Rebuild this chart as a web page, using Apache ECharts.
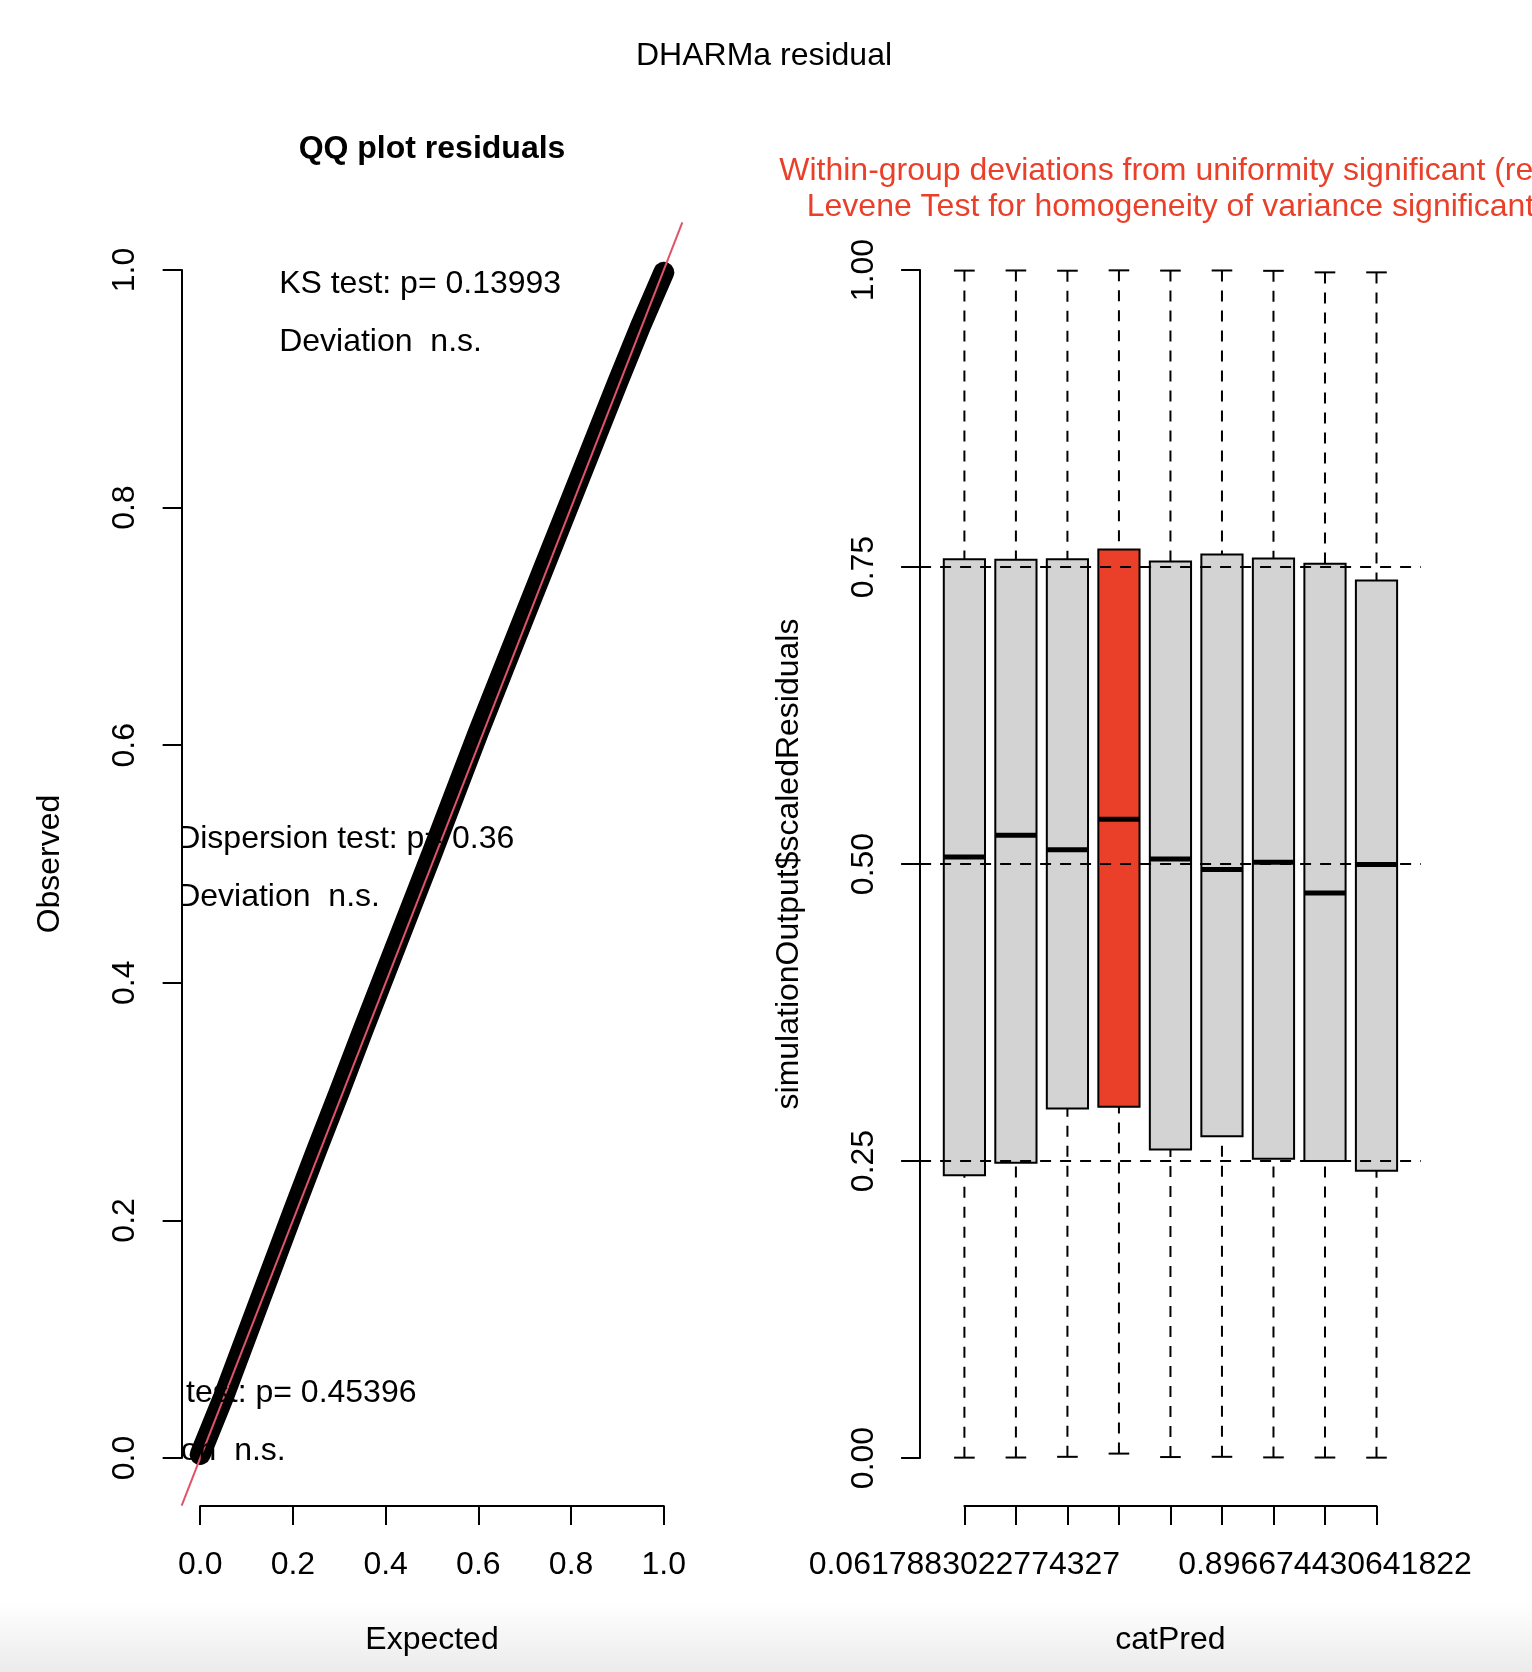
<!DOCTYPE html>
<html>
<head>
<meta charset="utf-8">
<script src="https://cdn.jsdelivr.net/npm/echarts@6/dist/echarts.min.js"></script>
<style>
html,body{margin:0;padding:0;background:#fff;}
#chart{width:1532px;height:1672px;}
</style>
</head>
<body>
<div id="chart"></div>
<script>
// ---------------- data ----------------
// QQ plot (expected vs observed quantiles of scaled residuals), read along the point band
const qqExpected = [0.000, 0.050, 0.100, 0.150, 0.200, 0.250, 0.300, 0.350, 0.400, 0.450, 0.500,
                    0.550, 0.600, 0.650, 0.700, 0.750, 0.800, 0.850, 0.900, 0.950, 1.000];
const qqObserved = [0.003, 0.051, 0.103, 0.155, 0.207, 0.258, 0.308, 0.359, 0.409, 0.459, 0.509,
                    0.560, 0.611, 0.660, 0.709, 0.758, 0.807, 0.856, 0.905, 0.953, 0.998];

// Boxplot of scaled residuals per catPred group
const catLabels = ["0.0617883022774327", "", "", "", "", "", "", "0.896674430641822", ""];
const boxMin    = [0.0003, 0.0004, 0.0010, 0.0037, 0.0008, 0.0010, 0.0005, 0.0004, 0.0003];
const boxQ1     = [0.2381, 0.2485, 0.2942, 0.2956, 0.2597, 0.2709, 0.2519, 0.2499, 0.2418];
const boxMedian = [0.5059, 0.5241, 0.5121, 0.5376, 0.5042, 0.4953, 0.5014, 0.4756, 0.4995];
const boxQ3     = [0.7566, 0.7560, 0.7566, 0.7647, 0.7546, 0.7605, 0.7571, 0.7527, 0.7386];
const boxMax    = [0.9995, 0.9996, 0.9994, 0.9997, 0.9995, 0.9996, 0.9993, 0.9980, 0.9980];
const groupSignificant = [false, false, false, true, false, false, false, false, false];
const refLevels = [0.25, 0.5, 0.75];

// Text
const mainTitle = "DHARMa residual";
const qqTitle = "QQ plot residuals";
const boxTitleLines = ["Within-group deviations from uniformity significant (red)",
                       "Levene Test for homogeneity of variance significant"];
const ksText = ["KS test: p= 0.13993", "Deviation  n.s."];
const dispText = ["Dispersion test: p= 0.36", "Deviation  n.s."];
const outlierText = ["Outlier test: p= 0.45396", "Deviation  n.s."];

// ---------------- layout / style ----------------
const FONT = '"Liberation Sans", Arial, Helvetica, sans-serif';
const FS = 32;
const RED = '#EA3F28';
const ABLINE = '#DF536B';
const GRAY = '#D3D3D3';
const EXT = 0.04; // R usr extension

const L = {x0: 200.2, x1: 663.8, top: 270, bottom: 1458};
const Lw = L.x1 - L.x0, H = L.bottom - L.top;
const R = {x0: 964.4, x1: 1376.5};
const Rstep = (R.x1 - R.x0) / (catLabels.length - 1);
const axisY = 1506;

const plotL = {left: L.x0 - EXT * Lw, width: Lw * (1 + 2 * EXT)};
const plotR = {left: R.x0 - (0.5 + EXT * catLabels.length) * Rstep,
               width: Rstep * catLabels.length * (1 + 2 * EXT)};
const plotTop = L.top - EXT * H, plotH = H * (1 + 2 * EXT);

const axisCommon = {
  axisLine: {show: true, onZero: false, lineStyle: {color: '#000', width: 2}},
  axisTick: {show: true, length: 19, lineStyle: {color: '#000', width: 2}},
  splitLine: {show: false},
  nameLocation: 'middle',
  nameTextStyle: {fontSize: FS, color: '#000', fontFamily: FONT}
};
const labelCommon = {fontSize: FS, color: '#000', fontFamily: FONT};

const chart = echarts.init(document.getElementById('chart'), null, {renderer: 'canvas'});

function txt(text, x, y, font, fill) {
  return {
    type: 'text', x: x, y: y, silent: true,
    style: {text: text, font: font || (FS + 'px ' + FONT), fill: fill || '#000', align: 'center', verticalAlign: 'middle'}
  };
}

const option = {
  animation: false,
  backgroundColor: {
    type: 'linear', x: 0, y: 0, x2: 0, y2: 1,
    colorStops: [{offset: 0, color: '#ffffff'}, {offset: 0.958, color: '#ffffff'}, {offset: 1, color: '#ebebeb'}]
  },
  graphic: [
    txt(mainTitle, 764, 56.5),
    txt(qqTitle, 432, 149.5, 'bold ' + FS + 'px ' + FONT),
    txt(boxTitleLines[0], 1170.5, 171, null, RED),
    txt(boxTitleLines[1], 1170.5, 207.5, null, RED)
  ],
  grid: [
    {left: L.x0, top: L.top, width: Lw, height: H},
    {left: plotL.left, top: plotTop, width: plotL.width, height: plotH},
    {left: R.x0, top: L.top, width: R.x1 - R.x0, height: H},
    {left: plotR.left, top: plotTop, width: plotR.width, height: plotH}
  ],
  xAxis: [
    Object.assign({}, axisCommon, {
      gridIndex: 0, type: 'value', min: 0, max: 1, interval: 0.2, offset: axisY - L.bottom,
      name: 'Expected', nameGap: 118,
      axisLabel: Object.assign({}, labelCommon, {margin: 43, formatter: v => v.toFixed(1)})
    }),
    {gridIndex: 1, type: 'value', min: -EXT, max: 1 + EXT, show: false},
    Object.assign({}, axisCommon, {
      gridIndex: 2, type: 'category', data: catLabels, boundaryGap: false, offset: axisY - L.bottom,
      name: 'catPred', nameGap: 118,
      axisTick: {show: true, length: 19, interval: 0, lineStyle: {color: '#000', width: 2}},
      axisLabel: Object.assign({}, labelCommon, {margin: 43, interval: (i) => i === 0 || i === 7})
    }),
    {gridIndex: 3, type: 'value', min: 0.5 - EXT * catLabels.length, max: catLabels.length + 0.5 + EXT * catLabels.length, show: false}
  ],
  yAxis: [
    Object.assign({}, axisCommon, {
      gridIndex: 0, type: 'value', min: 0, max: 1, interval: 0.2, offset: L.x0 - plotL.left,
      name: 'Observed', nameGap: 115,
      axisLabel: Object.assign({}, labelCommon, {margin: 40, rotate: 90, formatter: v => v.toFixed(1)})
    }),
    {gridIndex: 1, type: 'value', min: -EXT, max: 1 + EXT, show: false},
    Object.assign({}, axisCommon, {
      gridIndex: 2, type: 'value', min: 0, max: 1, interval: 0.25, offset: R.x0 - plotR.left,
      name: 'simulationOutput$scaledResiduals', nameGap: 115,
      axisLabel: Object.assign({}, labelCommon, {margin: 40, rotate: 90, formatter: v => v.toFixed(2)})
    }),
    {gridIndex: 3, type: 'value', min: -EXT, max: 1 + EXT, show: false}
  ],
  series: [
    // QQ points band
    {
      type: 'line', xAxisIndex: 1, yAxisIndex: 1, silent: true, symbol: 'none', z: 2, clip: true,
      data: qqExpected.map((e, i) => [e, qqObserved[i]]),
      lineStyle: {color: '#000', width: 21, cap: 'round', join: 'round'}
    },
    // 1:1 reference line
    {
      type: 'line', xAxisIndex: 1, yAxisIndex: 1, silent: true, symbol: 'none', z: 3, clip: true,
      data: [[-EXT, -EXT], [1 + EXT, 1 + EXT]],
      lineStyle: {color: ABLINE, width: 2}
    },
    // test annotations, clipped to the plot region like in R
    {
      type: 'custom', xAxisIndex: 1, yAxisIndex: 1, silent: true, clip: true, z: 4,
      data: [[0, 0]],
      renderItem: function (params, api) {
        const cs = params.coordSys;
        const blocks = [
          {lines: ksText, dx: 97.5, dy: [61.5, 120]},
          {lines: dispText, dx: -4.5, dy: [617, 674.5]},
          {lines: outlierText, dx: -98.7, dy: [1171, 1229]}
        ];
        const children = [];
        blocks.forEach(b => b.lines.forEach((t, k) => {
          children.push({type: 'text', style: {
            text: t, x: cs.x + b.dx, y: cs.y + b.dy[k], font: FS + 'px ' + FONT,
            fill: '#000', align: 'left', verticalAlign: 'middle'}});
        }));
        return {type: 'group', children: children};
      }
    },
    // boxplots
    {
      type: 'custom', xAxisIndex: 2, yAxisIndex: 2, silent: true, clip: false, z: 2,
      encode: {x: 0, y: [1, 2, 3, 4, 5]},
      data: boxMin.map((v, i) => [i, boxMin[i], boxQ1[i], boxMedian[i], boxQ3[i], boxMax[i]]),
      renderItem: function (params, api) {
        const i = api.value(0);
        const x = api.coord([i, 0])[0];
        const band = Math.abs(api.coord([1, 0])[0] - api.coord([0, 0])[0]);
        const w = band * 0.8, cap = band * 0.4;
        const y = k => api.coord([i, api.value(k)])[1];
        const yMin = y(1), yQ1 = y(2), yMed = y(3), yQ3 = y(4), yMax = y(5);
        const dash = {stroke: '#000', lineWidth: 2, lineDash: [11, 9]};
        const solid = {stroke: '#000', lineWidth: 2};
        return {type: 'group', children: [
          {type: 'line', shape: {x1: x, y1: yMin, x2: x, y2: yQ1}, style: dash},
          {type: 'line', shape: {x1: x, y1: yMax, x2: x, y2: yQ3}, style: dash},
          {type: 'line', shape: {x1: x - cap / 2, y1: yMin, x2: x + cap / 2, y2: yMin}, style: solid},
          {type: 'line', shape: {x1: x - cap / 2, y1: yMax, x2: x + cap / 2, y2: yMax}, style: solid},
          {type: 'rect', shape: {x: x - w / 2, y: yQ3, width: w, height: yQ1 - yQ3},
           style: {fill: groupSignificant[i] ? RED : GRAY, stroke: '#000', lineWidth: 2}},
          {type: 'line', shape: {x1: x - w / 2, y1: yMed, x2: x + w / 2, y2: yMed},
           style: {stroke: '#000', lineWidth: 5}}
        ]};
      }
    },
    // dashed reference lines at quartiles
    {
      type: 'custom', xAxisIndex: 3, yAxisIndex: 3, silent: true, clip: false, z: 5,
      encode: {y: 0},
      data: refLevels.map(v => [v]),
      renderItem: function (params, api) {
        const cs = params.coordSys;
        const yy = api.coord([5, api.value(0)])[1];
        return {type: 'line', shape: {x1: cs.x, y1: yy, x2: cs.x + cs.width, y2: yy},
                style: {stroke: '#000', lineWidth: 2, lineDash: [11, 9]}};
      }
    }
  ]
};
chart.setOption(option);
</script>
</body>
</html>
